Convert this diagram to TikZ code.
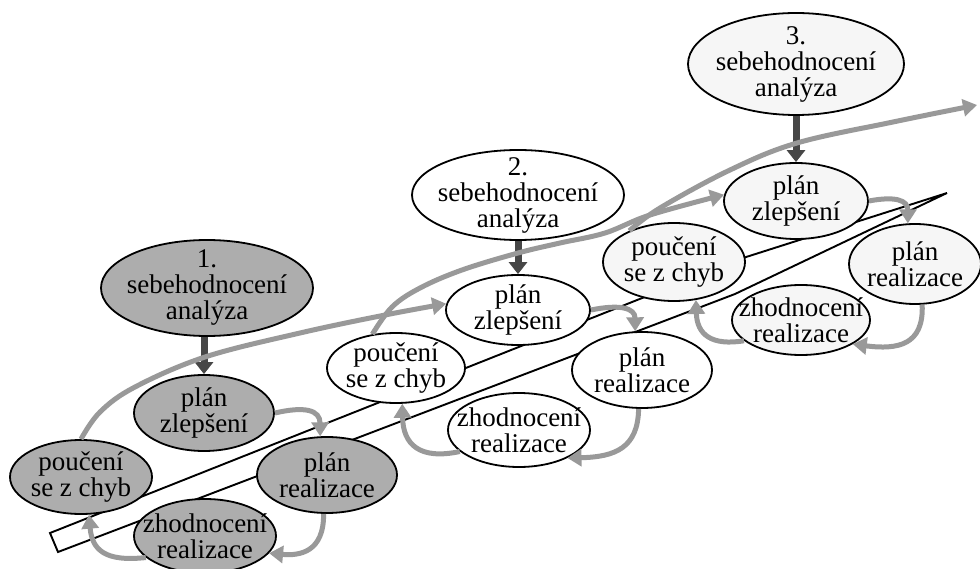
\documentclass[tikz,border=0pt]{standalone}
\usepackage{fontspec}
\setmainfont{Liberation Serif}
\usetikzlibrary{shapes.geometric,arrows.meta}
\pgfdeclarelayer{bg}
\pgfsetlayers{bg,main}
\definecolor{stageone}{gray}{0.68}
\definecolor{stagethree}{gray}{0.965}
\definecolor{bandgray}{gray}{0.6}
\definecolor{darkarr}{gray}{0.28}
\begin{document}
\begin{tikzpicture}[x=1pt,y=-1pt,
  every node/.style={font=\fontsize{27}{26}\selectfont, align=center, text=black},
  oval/.style={ellipse, draw=black, line width=1.8pt, inner sep=0pt},
  ovalA/.style={oval, fill=stageone},
  ovalB/.style={oval, fill=white},
  ovalC/.style={oval, fill=stagethree},
  band/.style={draw=bandgray, line width=5pt, -{Triangle[length=14pt,width=17pt]}},
  dark/.style={draw=darkarr, line width=7pt, -{Triangle[length=12pt,width=18pt]}},
  strip/.style={draw=black, line width=1.9pt, fill=white, line join=miter}]

\useasboundingbox (0,0) rectangle (980,569);

% ---------- stage 1 ----------
\node[ovalA, minimum width=212, minimum height=96, label={center:1.\\sebehodnocení\\analýza}] (s1) at (207,288) {};
\node[ovalA, minimum width=140, minimum height=76, label={center:plán\\zlepšení}] (pz1) at (204,413) {};
\node[ovalA, minimum width=142, minimum height=74, label={center:poučení\\se z chyb}] (pc1) at (81,477) {};
\node[ovalA, minimum width=140, minimum height=76, label={center:plán\\realizace}] (pr1) at (327,475) {};
\node[ovalA, minimum width=142, minimum height=74, label={center:zhodnocení\\realizace}] (zr1) at (205,536) {};

% ---------- stage 2 ----------
\node[ovalB, minimum width=212, minimum height=90, label={center:2.\\sebehodnocení\\analýza}] (s2) at (518,195) {};
\node[ovalB, minimum width=144, minimum height=70, label={center:plán\\zlepšení}] (pz2) at (518,310) {};
\node[ovalB, minimum width=138, minimum height=70, label={center:poučení\\se z chyb}] (pc2) at (396,368) {};
\node[ovalB, minimum width=140, minimum height=76, label={center:plán\\realizace}] (pr2) at (642,370) {};
\node[ovalB, minimum width=142, minimum height=74, label={center:zhodnocení\\realizace}] (zr2) at (519,430) {};

% ---------- stage 3 ----------
\node[ovalC, minimum width=216, minimum height=102, label={center:3.\\sebehodnocení\\analýza}] (s3) at (796,64) {};
\node[ovalC, minimum width=144, minimum height=76, label={center:plán\\zlepšení}] (pz3) at (796,201) {};
\node[ovalC, minimum width=142, minimum height=78, label={center:poučení\\se z chyb}] (pc3) at (674,262) {};
\node[ovalC, minimum width=132, minimum height=80, label={center:plán\\realizace}] (pr3) at (915,264) {};
\node[ovalC, minimum width=138, minimum height=70, label={center:zhodnocení\\realizace}] (zr3) at (801,320) {};

\coordinate (endC) at (977,105);

% ---------- inclined strip (behind) ----------
\begin{pgfonlayer}{bg}
\draw[strip] (50,533) -- (743,258) -- (947,193) -- (735,294) -- (58,552) -- cycle;
\end{pgfonlayer}

% ---------- dark arrows ----------
\draw[dark] (pz1.north |- s1.south) -- (pz1.north);
\draw[dark] (s2.south) -- (pz2.north);
\draw[dark] (s3.south) -- (pz3.north);

% ---------- cycles ----------
\draw[band] (pz1.east) .. controls (305,406) and (320,410) .. (pr1.100);
\draw[band] (pr1.-95) .. controls (324,552) and (300,556) .. (zr1.-15);
\draw[band] (zr1.200) .. controls (105,562) and (92,550) .. (pc1.-78);

\draw[band] (pz2.east) .. controls (620,304) and (635,308) .. (pr2.100);
\draw[band] (pr2.-95) .. controls (638,448) and (615,457) .. (zr2.-30);
\draw[band] (zr2.200) .. controls (420,460) and (403,445) .. (pc2.-80);

\draw[band] (pz3.east) .. controls (895,196) and (908,200) .. (pr3.100);
\draw[band] (pr3.-80) .. controls (924,345) and (898,350) .. (zr3.-25);
\draw[band] (zr3.200) .. controls (712,346) and (697,335) .. (pc3.-60);

% ---------- spiral links between stages ----------
\draw[band] plot[smooth, tension=0.6] coordinates {(pc1.north) (100,412) (135,387) (205,357) (300,333) (385,315) (pz2.175)};
\draw[band] plot[smooth, tension=0.6] coordinates {(pc2.125) (392,307) (420,288) (462,270) (518,253) (560,243) (605,233) (650,215) (pz3.175)};
\draw[band] plot[smooth, tension=0.6] coordinates {(pc3.145) (660,208) (730,170) (797,143) (893,122) (endC)};
\end{tikzpicture}
\end{document}
